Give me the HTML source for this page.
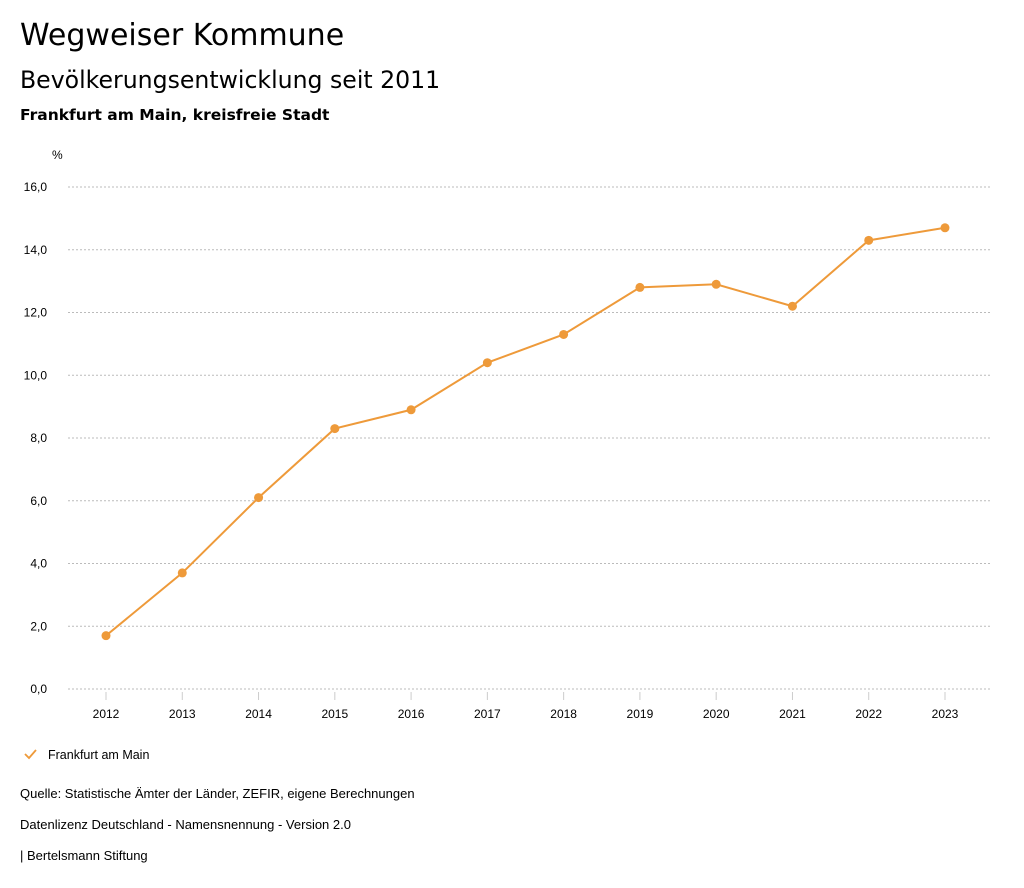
<!DOCTYPE html>
<html><head><meta charset="utf-8"><style>
body{margin:0;width:1024px;height:888px;background:#fff;font-family:"Liberation Sans",sans-serif;color:#000;overflow:hidden}
.t{position:absolute;left:20px;white-space:nowrap}
.d{font-family:"DejaVu Sans",sans-serif}
</style></head><body>
<div class="t d" style="top:18px;font-size:30px">Wegweiser Kommune</div>
<div class="t d" style="top:66px;font-size:23.6px">Bevölkerungsentwicklung seit 2011</div>
<div class="t d" style="top:106px;font-size:15.5px;font-weight:bold">Frankfurt am Main, kreisfreie Stadt</div>
<svg id="c" width="1024" height="888" style="position:absolute;left:0;top:0" font-family="Liberation Sans, sans-serif"></svg>
<div class="t" style="top:786px;font-size:13px">Quelle: Statistische Ämter der Länder, ZEFIR, eigene Berechnungen</div>
<div class="t" style="top:817px;font-size:13px">Datenlizenz Deutschland - Namensnennung - Version 2.0</div>
<div class="t" style="top:848px;font-size:13px">| Bertelsmann Stiftung</div>
<script>
const years=["2012","2013","2014","2015","2016","2017","2018","2019","2020","2021","2022","2023"];
const values=[1.7,3.7,6.1,8.3,8.9,10.4,11.3,12.8,12.9,12.2,14.3,14.7];
const yTicks=[0,2,4,6,8,10,12,14,16];
const ns="http://www.w3.org/2000/svg",svg=document.getElementById('c');
const x=i=>106+i*(945-106)/(years.length-1);
const y=v=>689-v*(689-187)/16;
function mk(t,a,p){const e=document.createElementNS(ns,t);for(const k in a)e.setAttribute(k,a[k]);(p||svg).appendChild(e);return e;}
yTicks.forEach(v=>{
 const g=mk('line',{x1:68,x2:990,y1:y(v),y2:y(v),stroke:'#bbb','stroke-dasharray':'2,2'});
 
 
 const t=mk('text',{x:47,y:y(v)+4,'text-anchor':'end','font-size':12});
 t.textContent=v.toFixed(1).replace('.',',');
 
 
});
const u=mk('text',{x:52,y:159,'font-size':12});u.textContent='%';


years.forEach((yr,i)=>{
 const tk=mk('line',{x1:x(i),x2:x(i),y1:692,y2:700,stroke:'#ccc'});
 
 
 const t=mk('text',{x:x(i),y:718,'text-anchor':'middle','font-size':12});t.textContent=yr;
 
 
});
const pl=mk('polyline',{points:values.map((v,i)=>x(i)+','+y(v)).join(' '),fill:'none',stroke:'#ee9a3a','stroke-width':2});


values.forEach((v,i)=>{
 const c=mk('circle',{cx:x(i),cy:y(v),r:4.5,fill:'#ee9a3a'});
 
 
});
const lg=mk('path',{d:'M25,754 L29,758 L36,750',fill:'none',stroke:'#ee9a3a','stroke-width':1.8});


const lt=mk('text',{x:48,y:759,'font-size':12.5});lt.textContent='Frankfurt am Main';


</script>
</body></html>
